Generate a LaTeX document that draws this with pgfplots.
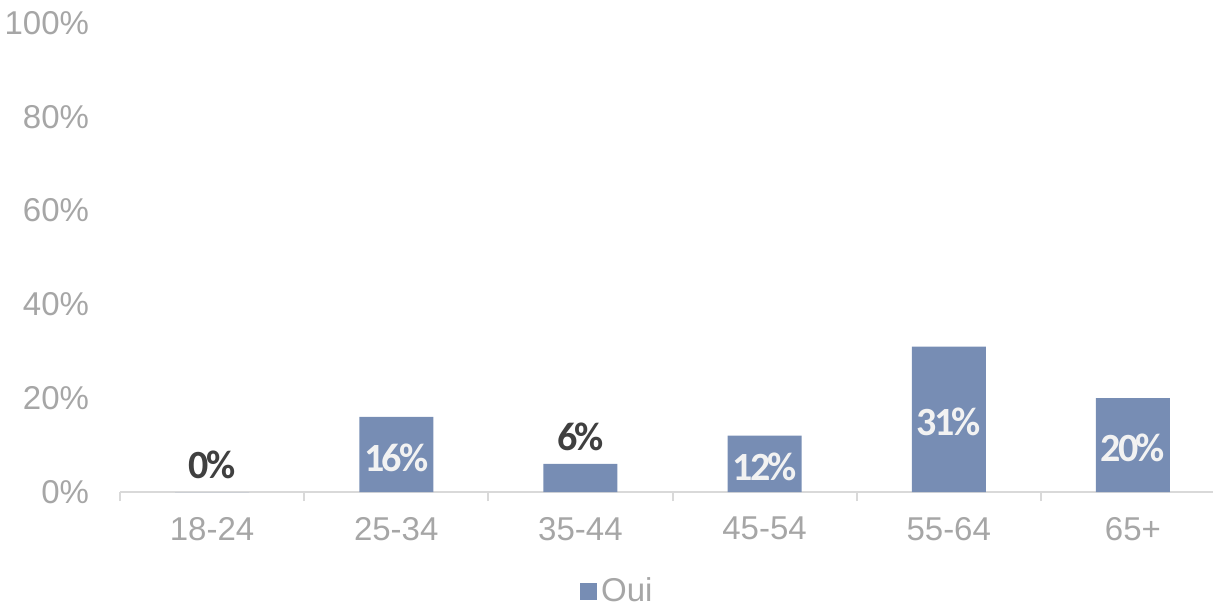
\documentclass[border=0pt]{standalone}
\usepackage{fontspec}
\setmainfont{Liberation Sans}
\newfontfamily\lblfont[LetterSpace=-7]{Carlito}
\usepackage{pgfplots}
\pgfplotsset{compat=1.18}
\definecolor{barc}{HTML}{778DB4}
\definecolor{tickgray}{HTML}{A6A6A6}
\definecolor{axgray}{HTML}{D9D9D9}
\definecolor{darklbl}{HTML}{404040}
\definecolor{lightlbl}{HTML}{F2F2F2}
\begin{document}
\begin{tikzpicture}
\begin{axis}[
  at={(60bp,57.5bp)}, anchor=south west,
  width=552.5bp, height=234.5bp, scale only axis,
  xmin=-0.5, xmax=5.5, ymin=0, ymax=100,
  separate axis lines,
  axis x line*=bottom, axis y line*=left,
  x axis line style={draw=axgray, line width=1bp, -},
  y axis line style={draw=none},
  xtick={0,...,5},
  xticklabels={18-24,25-34,35-44,45-54,55-64,65+},
  minor xtick={-0.5,0.5,1.5,2.5,3.5,4.5,5.5},
  tick align=outside,
  major tick length=0pt,
  minor tick length=4.5bp,
  minor x tick style={draw=axgray, line width=1bp},
  major x tick style={draw=none},
  y tick style={draw=none},
  ytick={0,20,40,60,80,100},
  yticklabel={\pgfmathprintnumber{\tick}\%},
  /pgf/number format/assume math mode=true,
  tick label style={font=\fontsize{16.5bp}{18bp}\selectfont, text=tickgray},
  yticklabel style={xshift=-12bp},
  xticklabel style={yshift=-9bp},
  legend style={draw=none, at={(0.451,-0.211)}, anchor=center,
    font=\fontsize{16.5bp}{18bp}\selectfont, text=tickgray},
  clip=false,
]
\addplot[ybar, bar width=37bp, fill=barc, draw=none,
  legend image code/.code={\fill[barc] (0bp,-4.5bp) rectangle (8.5bp,4bp);}]
  coordinates {(0,0) (1,16) (2,6) (3,12) (4,31) (5,20)};
\addlegendentry{Oui}
\addplot[forget plot, only marks, mark=none, nodes near coords,
  point meta=explicit symbolic,
  nodes near coords style={anchor=center, yshift=-1.5bp, text=lightlbl,
    font=\lblfont\bfseries\fontsize{20bp}{22bp}\selectfont}]
  coordinates {(1,8)[16\%] (3,6)[12\%] (4,15.5)[31\%] (5,10)[20\%]};
\addplot[forget plot, only marks, mark=none, nodes near coords,
  point meta=explicit symbolic,
  nodes near coords style={anchor=center, yshift=13.5bp, text=darklbl,
    font=\lblfont\bfseries\fontsize{20bp}{22bp}\selectfont}]
  coordinates {(0,0)[0\%] (2,6)[6\%]};
\end{axis}
\pgfresetboundingbox
\path[use as bounding box] (0,0) rectangle (606.5bp,303.5bp);
\end{tikzpicture}
\end{document}
